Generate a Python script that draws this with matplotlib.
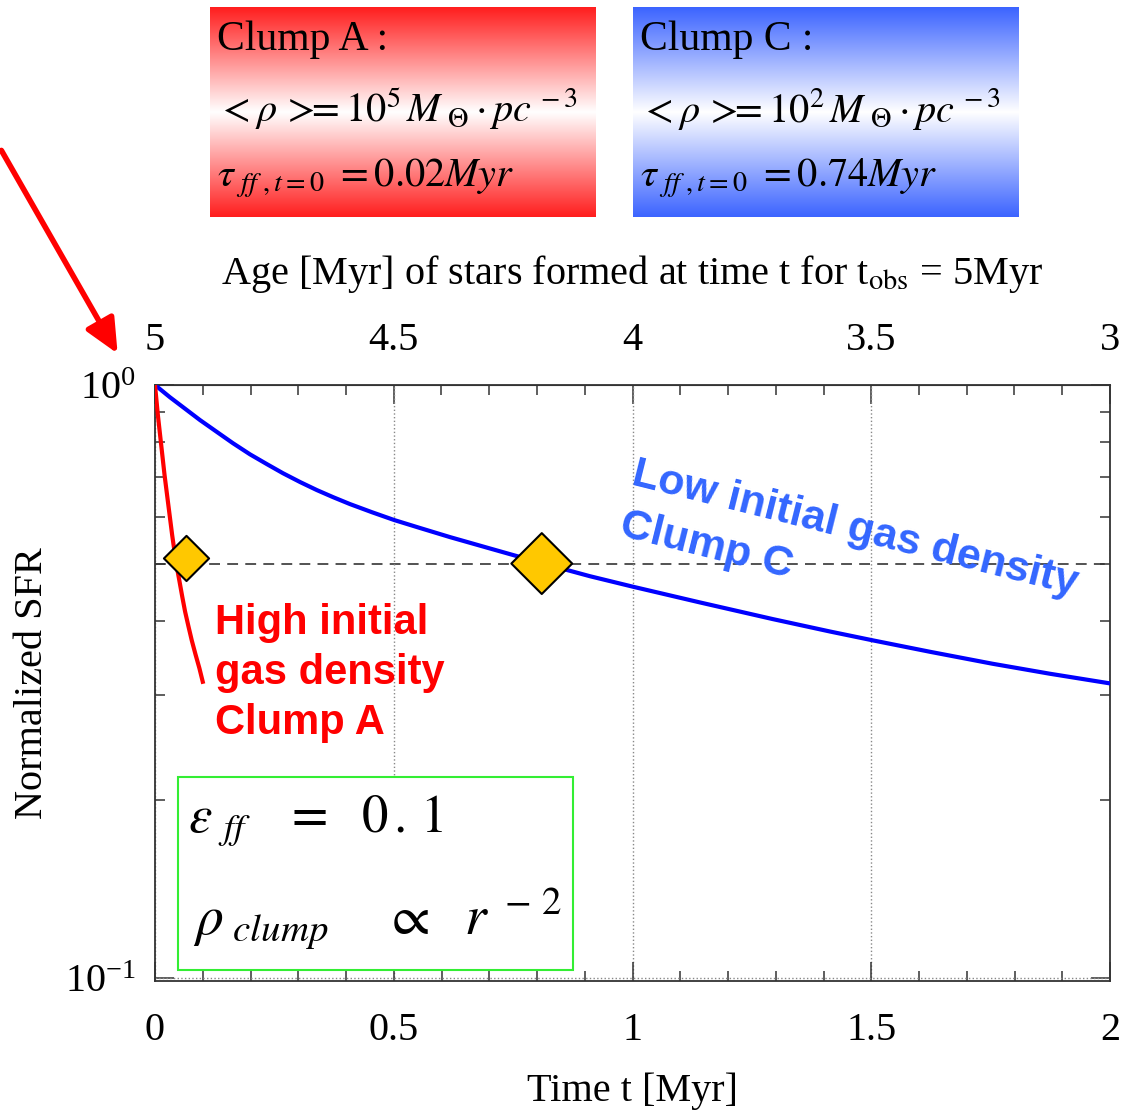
import matplotlib
matplotlib.use("Agg")
import matplotlib.pyplot as plt
import numpy as np
from matplotlib.colors import LinearSegmentedColormap
from matplotlib.patches import Rectangle, FancyArrowPatch
from matplotlib.ticker import MultipleLocator, LogLocator, NullFormatter

plt.rcParams['font.family'] = 'Liberation Serif'
plt.rcParams['mathtext.fontset'] = 'stix'

# normalized SFR
# clump C (low initial gas density)
t_c = [0, 0.031, 0.063, 0.094, 0.130, 0.163, 0.199, 0.235, 0.268, 0.304, 0.339,
       0.373, 0.408, 0.455, 0.501, 0.555, 0.618, 0.702, 0.813, 0.911, 1.001, 1.141,
       1.294, 1.414, 1.504, 1.623, 1.753, 1.874, 2.0]
sfr_c = [1.0, 0.954, 0.912, 0.873, 0.833, 0.798, 0.764, 0.735, 0.710, 0.686, 0.665,
         0.647, 0.630, 0.610, 0.592, 0.574, 0.554, 0.530, 0.500, 0.476, 0.457, 0.430,
         0.403, 0.384, 0.371, 0.355, 0.339, 0.326, 0.314]
# clump A (high initial gas density)
t_a = [0, 0.006, 0.013, 0.020, 0.028, 0.036, 0.045, 0.051, 0.057, 0.063, 0.070,
       0.077, 0.085, 0.093, 0.100]
sfr_a = [1.0, 0.890, 0.792, 0.705, 0.627, 0.558, 0.497, 0.468, 0.440, 0.415, 0.392,
         0.371, 0.351, 0.333, 0.316]

# half-SFR points (diamonds)
half_t = [0.066, 0.81]
half_sfr = [0.51, 0.5]
half_level = 0.5

xticks = [0, 0.5, 1, 1.5, 2]
t_obs = 5

W, H = 1138, 1115
fig = plt.figure(figsize=(W / 100, H / 100), dpi=100)


def fx(px):
    return px / W


def fy(py):
    return 1 - py / H


ax = fig.add_axes([fx(155), fy(981), fx(1110) - fx(155), fy(385) - fy(981)])
ax.set_yscale('log')
ax.set_xlim(0, 2)
ax.set_ylim(0.0989, 1.0)

ax.grid(axis='x', which='major', ls=':', color='#888888', lw=1.0)
ax.axhline(0.1, ls=':', color='#888888', lw=1.0)
ax.axhline(half_level, ls=(0, (6, 4)), color='#444444', lw=1.3, zorder=1)

ax.plot(t_c, sfr_c, color='#0000ff', lw=3, zorder=3, solid_joinstyle='round')
ax.plot(t_a, sfr_a, color='#ff0000', lw=3, zorder=3, solid_joinstyle='round')
ax.scatter(half_t, half_sfr, marker='D', s=[23 ** 2, 31 ** 2], color='#ffc800',
           edgecolor='black', linewidth=1.5, zorder=4)

spine_c = '#333333'
for s in ax.spines.values():
    s.set_color(spine_c)
    s.set_linewidth(1.3)

fs = 29
ax.set_xticks(xticks)
ax.xaxis.set_minor_locator(MultipleLocator(0.1))
ax.xaxis.set_major_formatter(plt.FuncFormatter(lambda v, p: f'{v:g}'))
ax.yaxis.set_minor_locator(LogLocator(base=10, subs=np.arange(2, 10)))
ax.yaxis.set_minor_formatter(NullFormatter())
ax.tick_params(which='both', direction='in', color=spine_c, width=1.1,
               right=True, top=False, labelsize=fs)
ax.tick_params(axis='x', which='major', length=14, pad=22)
ax.tick_params(axis='x', which='minor', length=7)
ax.tick_params(axis='y', which='major', length=14, pad=14)
ax.tick_params(axis='y', which='minor', length=7)

secax = ax.secondary_xaxis('top', functions=(lambda t: t_obs - t, lambda a: t_obs - a))
secax.set_xticks([t_obs - v for v in xticks])
secax.xaxis.set_minor_locator(MultipleLocator(0.1))
secax.xaxis.set_major_formatter(plt.FuncFormatter(lambda v, p: f'{v:g}'))
secax.tick_params(which='both', direction='in', color=spine_c, width=1.1, labelsize=fs)
secax.tick_params(which='major', length=14, pad=19)
secax.tick_params(which='minor', length=7)
secax.spines['top'].set_color(spine_c)
secax.set_xlabel(r'Age [Myr] of stars formed at time t for t$_{\rm obs}$ = 5Myr',
                 fontsize=fs, labelpad=27)

ax.set_xlabel('Time t [Myr]', fontsize=fs, labelpad=17)
ax.set_ylabel('Normalized SFR', fontsize=fs, labelpad=10)

# annotations inside the plot
fig.text(fx(215), fy(603), 'High initial\ngas density\nClump A', color='#ff0000',
         family='Liberation Sans', weight='bold', fontsize=30, ha='left', va='top',
         linespacing=1.32)
fig.text(fx(638), fy(454), 'Low initial gas density\nClump C', color='#3366ff',
         family='Liberation Sans', weight='bold', fontsize=31, ha='left', va='top',
         rotation=-14, rotation_mode='anchor', linespacing=1.4)

fig.add_artist(Rectangle((fx(178), fy(970)), fx(573) - fx(178), fy(777) - fy(970),
                         transform=fig.transFigure, facecolor='white',
                         edgecolor='#33ee33', lw=1.5, zorder=2))
fig.text(fx(188), fy(832), r'$\varepsilon_{\;\,ff}\ \ \ =\ \ 0\,.\,1$', fontsize=38, zorder=3)
fig.text(fx(193), fy(935), r'$\rho_{\ clump}\ \ \ \ \propto\ \ r^{\ -\,2}$', fontsize=40,
         zorder=3)

# gradient header boxes
grad = np.linspace(0, 1, 256).reshape(-1, 1)
boxes = [(210, 'Clump A :', r'$<\rho\,>\!\!\!=10^{5}\,M_{\ \Theta}\cdot pc^{\,-3}$',
          r'$\tau_{\ ff\ ,t=0}\ =0.02Myr$', '#ff1e1e'),
         (633, 'Clump C :', r'$<\rho\,>\!\!\!=10^{2}\,M_{\ \Theta}\cdot pc^{\,-3}$',
          r'$\tau_{\ ff\ ,t=0}\ =0.74Myr$', '#3c64ff')]
for x0, title, rho_txt, tau_txt, col in boxes:
    bax = fig.add_axes([fx(x0), fy(217), fx(x0 + 386) - fx(x0), fy(7) - fy(217)])
    cmap = LinearSegmentedColormap.from_list('g', [col, 'white', col])
    bax.imshow(grad, aspect='auto', cmap=cmap, extent=(0, 1, 0, 1))
    bax.axis('off')
    fig.text(fx(x0 + 7), fy(50), title, fontsize=30, va='baseline')
    fig.text(fx(x0 + 7), fy(122), rho_txt, fontsize=29, va='baseline')
    fig.text(fx(x0 + 7), fy(187), tau_txt, fontsize=29, va='baseline')

# red arrow pointing at the start of the curves
fig.add_artist(FancyArrowPatch(
    (fx(0), fy(148)), (fx(119), fy(356)), transform=fig.transFigure,
    arrowstyle='-|>,head_length=1.3,head_width=0.6', mutation_scale=16,
    color='#ff0000', lw=4))

fig.savefig('out.png', dpi=100)
